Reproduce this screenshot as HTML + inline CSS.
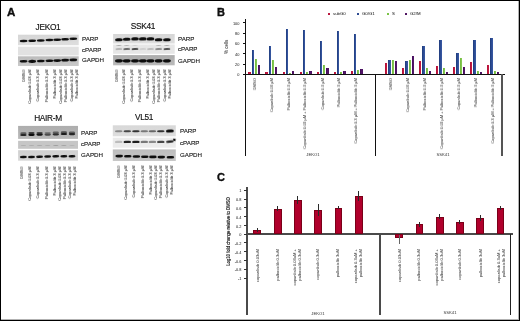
<!DOCTYPE html><html><head><meta charset="utf-8"><style>
*{margin:0;padding:0;box-sizing:border-box}
html,body{width:520px;height:321px;background:#fff;overflow:hidden}
body{position:relative;font-family:"Liberation Sans", sans-serif;color:#111}
#frame{position:absolute;left:0;top:0;width:520px;height:321px;border:1px solid #000;box-shadow:inset -1px -1px 0 rgba(0,0,0,0.3)}
.t{position:absolute;white-space:nowrap;line-height:1;will-change:transform}
.strip{position:absolute}
.band{position:absolute;border-radius:45%/50%}
.rv{position:absolute;transform:rotate(-90deg);transform-origin:0 0;white-space:nowrap;color:#222;will-change:transform}
.L{position:absolute;font-weight:bold;font-size:11px;line-height:11px;will-change:transform;-webkit-text-stroke:0.35px #000}
.ln{position:absolute;background:#111}
.ln2{position:absolute;background:#4a4a4a}
.bar{position:absolute}
.cbar{position:absolute;background:#b0002c;border:0.5px solid #7a0018}
</style></head><body>
<svg style="position:absolute;left:0;top:0" width="230" height="215" viewBox="0 0 230 215"><defs><linearGradient id="g0" x1="0" y1="0" x2="0" y2="1"><stop offset="0" stop-color="#d6d6d6"/><stop offset="1" stop-color="#dedede"/></linearGradient><linearGradient id="g1" x1="0" y1="0" x2="0" y2="1"><stop offset="0" stop-color="#bcbcbc"/><stop offset="1" stop-color="#cacaca"/></linearGradient><linearGradient id="g2" x1="0" y1="0" x2="0" y2="1"><stop offset="0" stop-color="#d6d6d6"/><stop offset="1" stop-color="#dedede"/></linearGradient><linearGradient id="g3" x1="0" y1="0" x2="0" y2="1"><stop offset="0" stop-color="#acacac"/><stop offset="1" stop-color="#bababa"/></linearGradient><linearGradient id="g4" x1="0" y1="0" x2="0" y2="1"><stop offset="0" stop-color="#adadad"/><stop offset="1" stop-color="#b9b9b9"/></linearGradient><linearGradient id="g5" x1="0" y1="0" x2="0" y2="1"><stop offset="0" stop-color="#d0d0d0"/><stop offset="1" stop-color="#d8d8d8"/></linearGradient><linearGradient id="g6" x1="0" y1="0" x2="0" y2="1"><stop offset="0" stop-color="#d8d8d8"/><stop offset="1" stop-color="#dedede"/></linearGradient><linearGradient id="g7" x1="0" y1="0" x2="0" y2="1"><stop offset="0" stop-color="#bdbdbd"/><stop offset="1" stop-color="#c8c8c8"/></linearGradient><filter id="f0" x="-50%" y="-150%" width="200%" height="400%"><feGaussianBlur stdDeviation="0.3"/></filter><filter id="f1" x="-50%" y="-150%" width="200%" height="400%"><feGaussianBlur stdDeviation="0.35"/></filter><filter id="f2" x="-50%" y="-150%" width="200%" height="400%"><feGaussianBlur stdDeviation="0.4"/></filter><filter id="f3" x="-50%" y="-150%" width="200%" height="400%"><feGaussianBlur stdDeviation="0.45"/></filter><filter id="f4" x="-50%" y="-150%" width="200%" height="400%"><feGaussianBlur stdDeviation="0.5"/></filter></defs><rect x="18" y="34.7" width="60.70" height="10.50" fill="url(#g0)"/><rect x="18" y="46.7" width="60.70" height="8.70" fill="#e2e2e2"/><rect x="18" y="56.3" width="60.70" height="9.70" fill="url(#g1)"/><rect x="19.70" y="39.80" width="7.8" height="2.4" rx="3.51" ry="1.20" fill="#111" filter="url(#f0)" transform="rotate(-1.5 23.60 41.00)"/><rect x="19.70" y="60.00" width="7.8" height="2.6" rx="3.51" ry="1.30" fill="#0a0a0a" filter="url(#f0)" transform="rotate(-1.5 23.60 61.30)"/><rect x="28.30" y="39.60" width="7.8" height="2.4" rx="3.51" ry="1.20" fill="#111" filter="url(#f0)" transform="rotate(-1.5 32.20 40.80)"/><rect x="28.30" y="59.65" width="7.8" height="3.3" rx="3.51" ry="1.65" fill="#0a0a0a" filter="url(#f0)" transform="rotate(-1.5 32.20 61.30)"/><rect x="36.90" y="39.30" width="7.8" height="2.4" rx="3.51" ry="1.20" fill="#111" filter="url(#f0)" transform="rotate(-1.5 40.80 40.50)"/><rect x="36.90" y="59.70" width="7.8" height="2.6" rx="3.51" ry="1.30" fill="#0a0a0a" filter="url(#f0)" transform="rotate(-1.5 40.80 61.00)"/><rect x="45.50" y="38.80" width="7.8" height="2.4" rx="3.51" ry="1.20" fill="#111" filter="url(#f0)" transform="rotate(-1.5 49.40 40.00)"/><rect x="45.50" y="59.60" width="7.8" height="2.4" rx="3.51" ry="1.20" fill="#0a0a0a" filter="url(#f0)" transform="rotate(-1.5 49.40 60.80)"/><rect x="53.30" y="38.50" width="7.8" height="2.4" rx="3.51" ry="1.20" fill="#111" filter="url(#f0)" transform="rotate(-1.5 57.20 39.70)"/><rect x="53.30" y="59.30" width="7.8" height="2.6" rx="3.51" ry="1.30" fill="#0a0a0a" filter="url(#f0)" transform="rotate(-1.5 57.20 60.60)"/><rect x="61.20" y="38.10" width="7.8" height="2.4" rx="3.51" ry="1.20" fill="#111" filter="url(#f0)" transform="rotate(-1.5 65.10 39.30)"/><rect x="61.20" y="58.85" width="7.8" height="2.7" rx="3.51" ry="1.35" fill="#0a0a0a" filter="url(#f0)" transform="rotate(-1.5 65.10 60.20)"/><rect x="69.40" y="37.50" width="7.8" height="2.4" rx="3.51" ry="1.20" fill="#111" filter="url(#f0)" transform="rotate(-1.5 73.30 38.70)"/><rect x="69.40" y="58.50" width="7.8" height="2.8" rx="3.51" ry="1.40" fill="#0a0a0a" filter="url(#f0)" transform="rotate(-1.5 73.30 59.90)"/><rect x="113.1" y="34" width="61.60" height="9.50" fill="url(#g2)"/><rect x="113.1" y="44.5" width="61.60" height="9.30" fill="#e6e6e6"/><rect x="113.1" y="55.1" width="61.60" height="10.20" fill="url(#g3)"/><rect x="115.00" y="38.25" width="7.8" height="3.1" rx="2.50" ry="1.55" fill="#111" filter="url(#f1)" transform="rotate(-2 118.90 39.80)"/><rect x="114.90" y="59.15" width="8.0" height="3.3" rx="2.56" ry="1.65" fill="#0a0a0a" filter="url(#f1)" transform="rotate(-1 118.90 60.80)"/><rect x="115.40" y="48.15" width="7.0" height="1.7" rx="2.45" ry="0.85" fill="rgb(165,165,165)" filter="url(#f2)" transform="rotate(-3 118.90 49.00)"/><rect x="115.90" y="44.95" width="6.0" height="0.9" rx="2.70" ry="0.45" fill="rgb(150,150,150)" filter="url(#f2)" transform="rotate(-2 118.90 45.40)"/><rect x="122.80" y="37.75" width="7.8" height="3.1" rx="2.50" ry="1.55" fill="#111" filter="url(#f1)" transform="rotate(-2 126.70 39.30)"/><rect x="122.70" y="59.15" width="8.0" height="3.3" rx="2.56" ry="1.65" fill="#0a0a0a" filter="url(#f1)" transform="rotate(-1 126.70 60.80)"/><rect x="123.20" y="48.15" width="7.0" height="1.7" rx="2.45" ry="0.85" fill="rgb(68,68,68)" filter="url(#f2)" transform="rotate(-3 126.70 49.00)"/><rect x="123.70" y="44.95" width="6.0" height="0.9" rx="2.70" ry="0.45" fill="rgb(165,165,165)" filter="url(#f2)" transform="rotate(-2 126.70 45.40)"/><rect x="131.10" y="37.35" width="7.8" height="3.1" rx="2.50" ry="1.55" fill="#111" filter="url(#f1)" transform="rotate(-2 135.00 38.90)"/><rect x="131.00" y="59.15" width="8.0" height="3.3" rx="2.56" ry="1.65" fill="#0a0a0a" filter="url(#f1)" transform="rotate(-1 135.00 60.80)"/><rect x="131.50" y="48.15" width="7.0" height="1.7" rx="2.45" ry="0.85" fill="rgb(26,26,26)" filter="url(#f2)" transform="rotate(-3 135.00 49.00)"/><rect x="132.00" y="44.95" width="6.0" height="0.9" rx="2.70" ry="0.45" fill="rgb(200,200,200)" filter="url(#f2)" transform="rotate(-2 135.00 45.40)"/><rect x="138.90" y="37.35" width="7.8" height="3.1" rx="2.50" ry="1.55" fill="#111" filter="url(#f1)" transform="rotate(-2 142.80 38.90)"/><rect x="138.80" y="59.15" width="8.0" height="3.3" rx="2.56" ry="1.65" fill="#0a0a0a" filter="url(#f1)" transform="rotate(-1 142.80 60.80)"/><rect x="139.30" y="48.15" width="7.0" height="1.7" rx="2.45" ry="0.85" fill="rgb(200,200,200)" filter="url(#f2)" transform="rotate(-3 142.80 49.00)"/><rect x="139.80" y="44.95" width="6.0" height="0.9" rx="2.70" ry="0.45" fill="rgb(230,230,230)" filter="url(#f2)" transform="rotate(-2 142.80 45.40)"/><rect x="146.60" y="37.35" width="7.8" height="3.1" rx="2.50" ry="1.55" fill="#111" filter="url(#f1)" transform="rotate(-2 150.50 38.90)"/><rect x="146.50" y="59.15" width="8.0" height="3.3" rx="2.56" ry="1.65" fill="#0a0a0a" filter="url(#f1)" transform="rotate(-1 150.50 60.80)"/><rect x="147.00" y="48.15" width="7.0" height="1.7" rx="2.45" ry="0.85" fill="rgb(175,175,175)" filter="url(#f2)" transform="rotate(-3 150.50 49.00)"/><rect x="147.50" y="44.95" width="6.0" height="0.9" rx="2.70" ry="0.45" fill="rgb(230,230,230)" filter="url(#f2)" transform="rotate(-2 150.50 45.40)"/><rect x="154.70" y="38.15" width="7.8" height="3.1" rx="2.50" ry="1.55" fill="#111" filter="url(#f1)" transform="rotate(-2 158.60 39.70)"/><rect x="154.60" y="59.15" width="8.0" height="3.3" rx="2.56" ry="1.65" fill="#0a0a0a" filter="url(#f1)" transform="rotate(-1 158.60 60.80)"/><rect x="155.10" y="48.15" width="7.0" height="1.7" rx="2.45" ry="0.85" fill="rgb(110,110,110)" filter="url(#f2)" transform="rotate(-3 158.60 49.00)"/><rect x="155.60" y="44.95" width="6.0" height="0.9" rx="2.70" ry="0.45" fill="rgb(160,160,160)" filter="url(#f2)" transform="rotate(-2 158.60 45.40)"/><rect x="163.00" y="38.15" width="7.8" height="3.1" rx="2.50" ry="1.55" fill="#111" filter="url(#f1)" transform="rotate(-2 166.90 39.70)"/><rect x="162.90" y="59.15" width="8.0" height="3.3" rx="2.56" ry="1.65" fill="#0a0a0a" filter="url(#f1)" transform="rotate(-1 166.90 60.80)"/><rect x="163.40" y="48.15" width="7.0" height="1.7" rx="2.45" ry="0.85" fill="rgb(34,34,34)" filter="url(#f2)" transform="rotate(-3 166.90 49.00)"/><rect x="163.90" y="44.95" width="6.0" height="0.9" rx="2.70" ry="0.45" fill="rgb(150,150,150)" filter="url(#f2)" transform="rotate(-2 166.90 45.40)"/><rect x="18.1" y="125.9" width="59.90" height="13.00" fill="url(#g4)"/><rect x="18.1" y="140.8" width="59.90" height="8.00" fill="#c6c6c6"/><rect x="18.1" y="150.2" width="59.90" height="10.50" fill="url(#g5)"/><rect x="20.30" y="132.30" width="6.2" height="2.0" rx="1.55" ry="1.00" fill="rgb(90,90,90)" filter="url(#f3)" transform="rotate(0 23.40 133.30)"/><rect x="20.20" y="133.90" width="6.4" height="2.2" rx="1.60" ry="1.10" fill="rgb(40,40,40)" filter="url(#f3)" transform="rotate(0 23.40 135.00)"/><rect x="19.90" y="155.80" width="7.0" height="2.4" rx="3.15" ry="1.20" fill="#0a0a0a" filter="url(#f1)" transform="rotate(-2 23.40 157.00)"/><rect x="20.65" y="144.90" width="5.5" height="1.0" rx="2.48" ry="0.50" fill="rgb(175,175,175)" filter="url(#f4)" transform="rotate(0 23.40 145.40)"/><rect x="28.40" y="132.10" width="6.2" height="2.0" rx="1.55" ry="1.00" fill="rgb(65,65,65)" filter="url(#f3)" transform="rotate(0 31.50 133.10)"/><rect x="28.30" y="133.70" width="6.4" height="2.2" rx="1.60" ry="1.10" fill="rgb(15,15,15)" filter="url(#f3)" transform="rotate(0 31.50 134.80)"/><rect x="28.00" y="155.80" width="7.0" height="2.4" rx="3.15" ry="1.20" fill="#0a0a0a" filter="url(#f1)" transform="rotate(-2 31.50 157.00)"/><rect x="28.75" y="144.90" width="5.5" height="1.0" rx="2.48" ry="0.50" fill="rgb(175,175,175)" filter="url(#f4)" transform="rotate(0 31.50 145.40)"/><rect x="36.50" y="131.90" width="6.2" height="2.0" rx="1.55" ry="1.00" fill="rgb(72,72,72)" filter="url(#f3)" transform="rotate(0 39.60 132.90)"/><rect x="36.40" y="133.50" width="6.4" height="2.2" rx="1.60" ry="1.10" fill="rgb(22,22,22)" filter="url(#f3)" transform="rotate(0 39.60 134.60)"/><rect x="36.10" y="155.60" width="7.0" height="2.4" rx="3.15" ry="1.20" fill="#0a0a0a" filter="url(#f1)" transform="rotate(-2 39.60 156.80)"/><rect x="36.85" y="144.90" width="5.5" height="1.0" rx="2.48" ry="0.50" fill="rgb(170,170,170)" filter="url(#f4)" transform="rotate(0 39.60 145.40)"/><rect x="44.60" y="131.90" width="6.2" height="2.0" rx="1.55" ry="1.00" fill="rgb(125,125,125)" filter="url(#f3)" transform="rotate(0 47.70 132.90)"/><rect x="44.50" y="133.50" width="6.4" height="2.2" rx="1.60" ry="1.10" fill="rgb(75,75,75)" filter="url(#f3)" transform="rotate(0 47.70 134.60)"/><rect x="44.20" y="155.30" width="7.0" height="2.4" rx="3.15" ry="1.20" fill="#0a0a0a" filter="url(#f1)" transform="rotate(-2 47.70 156.50)"/><rect x="44.95" y="144.90" width="5.5" height="1.0" rx="2.48" ry="0.50" fill="rgb(175,175,175)" filter="url(#f4)" transform="rotate(0 47.70 145.40)"/><rect x="52.70" y="131.60" width="6.2" height="2.0" rx="1.55" ry="1.00" fill="rgb(95,95,95)" filter="url(#f3)" transform="rotate(0 55.80 132.60)"/><rect x="52.60" y="133.20" width="6.4" height="2.2" rx="1.60" ry="1.10" fill="rgb(45,45,45)" filter="url(#f3)" transform="rotate(0 55.80 134.30)"/><rect x="52.30" y="155.10" width="7.0" height="2.4" rx="3.15" ry="1.20" fill="#0a0a0a" filter="url(#f1)" transform="rotate(-2 55.80 156.30)"/><rect x="53.05" y="144.90" width="5.5" height="1.0" rx="2.48" ry="0.50" fill="rgb(160,160,160)" filter="url(#f4)" transform="rotate(0 55.80 145.40)"/><rect x="60.80" y="131.30" width="6.2" height="2.0" rx="1.55" ry="1.00" fill="rgb(80,80,80)" filter="url(#f3)" transform="rotate(0 63.90 132.30)"/><rect x="60.70" y="132.90" width="6.4" height="2.2" rx="1.60" ry="1.10" fill="rgb(30,30,30)" filter="url(#f3)" transform="rotate(0 63.90 134.00)"/><rect x="60.40" y="155.00" width="7.0" height="2.4" rx="3.15" ry="1.20" fill="#0a0a0a" filter="url(#f1)" transform="rotate(-2 63.90 156.20)"/><rect x="61.15" y="144.90" width="5.5" height="1.0" rx="2.48" ry="0.50" fill="rgb(165,165,165)" filter="url(#f4)" transform="rotate(0 63.90 145.40)"/><rect x="68.90" y="131.40" width="6.2" height="2.0" rx="1.55" ry="1.00" fill="rgb(90,90,90)" filter="url(#f3)" transform="rotate(0 72.00 132.40)"/><rect x="68.80" y="133.00" width="6.4" height="2.2" rx="1.60" ry="1.10" fill="rgb(40,40,40)" filter="url(#f3)" transform="rotate(0 72.00 134.10)"/><rect x="68.50" y="155.00" width="7.0" height="2.4" rx="3.15" ry="1.20" fill="#0a0a0a" filter="url(#f1)" transform="rotate(-2 72.00 156.20)"/><rect x="69.25" y="144.90" width="5.5" height="1.0" rx="2.48" ry="0.50" fill="rgb(180,180,180)" filter="url(#f4)" transform="rotate(0 72.00 145.40)"/><rect x="112.8" y="125.3" width="63.00" height="11.00" fill="url(#g6)"/><rect x="112.8" y="137.7" width="63.00" height="10.00" fill="#ebebeb"/><rect x="112.8" y="149.4" width="63.00" height="11.60" fill="url(#g7)"/><rect x="114.90" y="130.20" width="7.6" height="2.0" rx="2.28" ry="1.00" fill="rgb(136,136,136)" filter="url(#f1)" transform="rotate(-1 118.70 131.20)"/><rect x="114.90" y="140.70" width="7.6" height="2.4" rx="2.28" ry="1.20" fill="rgb(187,187,187)" filter="url(#f1)" transform="rotate(-1 118.70 141.90)"/><rect x="115.40" y="154.80" width="7.6" height="2.6" rx="2.28" ry="1.30" fill="#111" filter="url(#f1)" transform="rotate(-1 119.20 156.10)"/><rect x="123.50" y="130.20" width="7.6" height="2.0" rx="2.28" ry="1.00" fill="rgb(68,68,68)" filter="url(#f1)" transform="rotate(-1 127.30 131.20)"/><rect x="123.50" y="140.70" width="7.6" height="2.4" rx="2.28" ry="1.20" fill="rgb(34,34,34)" filter="url(#f1)" transform="rotate(-1 127.30 141.90)"/><rect x="124.00" y="155.00" width="7.6" height="2.6" rx="2.28" ry="1.30" fill="#111" filter="url(#f1)" transform="rotate(-1 127.80 156.30)"/><rect x="132.10" y="130.20" width="7.6" height="2.0" rx="2.28" ry="1.00" fill="rgb(51,51,51)" filter="url(#f1)" transform="rotate(-1 135.90 131.20)"/><rect x="132.10" y="140.70" width="7.6" height="2.4" rx="2.28" ry="1.20" fill="rgb(26,26,26)" filter="url(#f1)" transform="rotate(-1 135.90 141.90)"/><rect x="132.60" y="155.20" width="7.6" height="2.6" rx="2.28" ry="1.30" fill="#111" filter="url(#f1)" transform="rotate(-1 136.40 156.50)"/><rect x="140.50" y="130.20" width="7.6" height="2.0" rx="2.28" ry="1.00" fill="rgb(119,119,119)" filter="url(#f1)" transform="rotate(-1 144.30 131.20)"/><rect x="140.50" y="140.70" width="7.6" height="2.4" rx="2.28" ry="1.20" fill="rgb(119,119,119)" filter="url(#f1)" transform="rotate(-1 144.30 141.90)"/><rect x="141.00" y="155.40" width="7.6" height="2.6" rx="2.28" ry="1.30" fill="#111" filter="url(#f1)" transform="rotate(-1 144.80 156.70)"/><rect x="148.60" y="130.20" width="7.6" height="2.0" rx="2.28" ry="1.00" fill="rgb(102,102,102)" filter="url(#f1)" transform="rotate(-1 152.40 131.20)"/><rect x="148.60" y="140.70" width="7.6" height="2.4" rx="2.28" ry="1.20" fill="rgb(136,136,136)" filter="url(#f1)" transform="rotate(-1 152.40 141.90)"/><rect x="149.10" y="155.60" width="7.6" height="2.6" rx="2.28" ry="1.30" fill="#111" filter="url(#f1)" transform="rotate(-1 152.90 156.90)"/><rect x="157.00" y="130.20" width="7.6" height="2.0" rx="2.28" ry="1.00" fill="rgb(51,51,51)" filter="url(#f1)" transform="rotate(-1 160.80 131.20)"/><rect x="157.00" y="140.70" width="7.6" height="2.4" rx="2.28" ry="1.20" fill="rgb(68,68,68)" filter="url(#f1)" transform="rotate(-1 160.80 141.90)"/><rect x="157.50" y="155.80" width="7.6" height="2.6" rx="2.28" ry="1.30" fill="#111" filter="url(#f1)" transform="rotate(-1 161.30 157.10)"/><rect x="165.90" y="129.40" width="8.0" height="3.0" rx="2.40" ry="1.50" fill="rgb(17,17,17)" filter="url(#f1)" transform="rotate(-3 169.90 130.90)"/><rect x="166.00" y="140.40" width="7.8" height="2.4" rx="2.34" ry="1.20" fill="rgb(34,34,34)" filter="url(#f1)" transform="rotate(-6 169.90 141.60)"/><rect x="166.60" y="156.00" width="7.6" height="2.6" rx="2.28" ry="1.30" fill="#111" filter="url(#f1)" transform="rotate(-1 170.40 157.30)"/><rect x="173.10" y="138.70" width="2.6" height="2.2" rx="0.52" ry="1.10" fill="#111" filter="url(#f1)" transform="rotate(20 174.40 139.80)"/></svg>
<div class="t" style="left:17.5px;top:23.0px;width:60px;text-align:center;font-size:8.3px;letter-spacing:-0.3px;color:#111;-webkit-text-stroke:0.15px #111">JEKO1</div>
<div class="t" style="left:81.5px;top:35.05px;font-size:6.2px;line-height:7px;color:#111;-webkit-text-stroke:0.1px #111">PARP</div>
<div class="t" style="left:81.5px;top:46.30px;font-size:6.2px;line-height:7px;color:#111;-webkit-text-stroke:0.1px #111">cPARP</div>
<div class="t" style="left:81.5px;top:56.30px;font-size:6.2px;line-height:7px;color:#111;-webkit-text-stroke:0.1px #111">GAPDH</div>
<div class="rv" style="left:21.65px;top:143.80px;width:80px;font-size:4.3px;line-height:4.5px;text-align:right;color:#000;transform:rotate(-90deg) scaleX(0.93)">DMSO</div>
<div class="rv" style="left:28.35px;top:143.80px;width:80px;font-size:4.3px;line-height:4.5px;text-align:right;color:#000;transform:rotate(-90deg) scaleX(0.93)">Copanlisib 0.03 µM</div>
<div class="rv" style="left:36.45px;top:143.80px;width:80px;font-size:4.3px;line-height:4.5px;text-align:right;color:#000;transform:rotate(-90deg) scaleX(0.93)">Copanlisib 0.3 µM</div>
<div class="rv" style="left:45.15px;top:143.80px;width:80px;font-size:4.3px;line-height:4.5px;text-align:right;color:#000;transform:rotate(-90deg) scaleX(0.93)">Palbociclib 0.3 µM</div>
<div class="rv" style="left:53.25px;top:143.80px;width:80px;font-size:4.3px;line-height:4.5px;text-align:right;color:#000;transform:rotate(-90deg) scaleX(0.93)">Palbociclib 3 µM</div>
<div class="rv" style="left:59.30px;top:143.80px;width:80px;font-size:4.3px;line-height:4.5px;text-align:right;color:#000;transform:rotate(-90deg) scaleX(0.93)">Copanlisib 0.03 µM<br>Palbociclib 0.3 µM</div>
<div class="rv" style="left:69.60px;top:143.80px;width:80px;font-size:4.3px;line-height:4.5px;text-align:right;color:#000;transform:rotate(-90deg) scaleX(0.93)">Copanlisib 0.3 µM<br>Palbociclib 3 µM</div>
<div class="t" style="left:113.19999999999999px;top:21.8px;width:60px;text-align:center;font-size:8.3px;letter-spacing:-0.3px;color:#111;-webkit-text-stroke:0.15px #111">SSK41</div>
<div class="t" style="left:177.6px;top:35.05px;font-size:6.2px;line-height:7px;color:#111;-webkit-text-stroke:0.1px #111">PARP</div>
<div class="t" style="left:177.6px;top:44.50px;font-size:6.2px;line-height:7px;color:#111;-webkit-text-stroke:0.1px #111">cPARP</div>
<div class="t" style="left:177.6px;top:57.30px;font-size:6.2px;line-height:7px;color:#111;-webkit-text-stroke:0.1px #111">GAPDH</div>
<div class="rv" style="left:114.65px;top:143.80px;width:80px;font-size:4.3px;line-height:4.5px;text-align:right;color:#000;transform:rotate(-90deg) scaleX(0.93)">DMSO</div>
<div class="rv" style="left:121.65px;top:143.80px;width:80px;font-size:4.3px;line-height:4.5px;text-align:right;color:#000;transform:rotate(-90deg) scaleX(0.93)">Copanlisib 0.03 µM</div>
<div class="rv" style="left:129.65px;top:143.80px;width:80px;font-size:4.3px;line-height:4.5px;text-align:right;color:#000;transform:rotate(-90deg) scaleX(0.93)">Copanlisib 0.3 µM</div>
<div class="rv" style="left:137.75px;top:143.80px;width:80px;font-size:4.3px;line-height:4.5px;text-align:right;color:#000;transform:rotate(-90deg) scaleX(0.93)">Palbociclib 0.3 µM</div>
<div class="rv" style="left:145.55px;top:143.80px;width:80px;font-size:4.3px;line-height:4.5px;text-align:right;color:#000;transform:rotate(-90deg) scaleX(0.93)">Palbociclib 3 µM</div>
<div class="rv" style="left:152.10px;top:143.80px;width:80px;font-size:4.3px;line-height:4.5px;text-align:right;color:#000;transform:rotate(-90deg) scaleX(0.93)">Copanlisib 0.03 µM<br>Palbociclib 0.3 µM</div>
<div class="rv" style="left:162.60px;top:143.80px;width:80px;font-size:4.3px;line-height:4.5px;text-align:right;color:#000;transform:rotate(-90deg) scaleX(0.93)">Copanlisib 0.3 µM<br>Palbociclib 3 µM</div>
<div class="t" style="left:18px;top:114.2px;width:60px;text-align:center;font-size:8.3px;letter-spacing:-0.3px;color:#111;-webkit-text-stroke:0.15px #111">HAIR-M</div>
<div class="t" style="left:80.9px;top:129.20px;font-size:6.2px;line-height:7px;color:#111;-webkit-text-stroke:0.1px #111">PARP</div>
<div class="t" style="left:80.9px;top:140.40px;font-size:6.2px;line-height:7px;color:#111;-webkit-text-stroke:0.1px #111">cPARP</div>
<div class="t" style="left:80.9px;top:151.30px;font-size:6.2px;line-height:7px;color:#111;-webkit-text-stroke:0.1px #111">GAPDH</div>
<div class="rv" style="left:20.25px;top:240.50px;width:80px;font-size:4.3px;line-height:4.5px;text-align:right;color:#000;transform:rotate(-90deg) scaleX(0.93)">DMSO</div>
<div class="rv" style="left:28.05px;top:240.50px;width:80px;font-size:4.3px;line-height:4.5px;text-align:right;color:#000;transform:rotate(-90deg) scaleX(0.93)">Copanlisib 0.03 µM</div>
<div class="rv" style="left:36.45px;top:240.50px;width:80px;font-size:4.3px;line-height:4.5px;text-align:right;color:#000;transform:rotate(-90deg) scaleX(0.93)">Copanlisib 0.3 µM</div>
<div class="rv" style="left:44.55px;top:240.50px;width:80px;font-size:4.3px;line-height:4.5px;text-align:right;color:#000;transform:rotate(-90deg) scaleX(0.93)">Palbociclib 0.3 µM</div>
<div class="rv" style="left:52.55px;top:240.50px;width:80px;font-size:4.3px;line-height:4.5px;text-align:right;color:#000;transform:rotate(-90deg) scaleX(0.93)">Palbociclib 3 µM</div>
<div class="rv" style="left:57.90px;top:240.50px;width:80px;font-size:4.3px;line-height:4.5px;text-align:right;color:#000;transform:rotate(-90deg) scaleX(0.93)">Copanlisib 0.03 µM<br>Palbociclib 0.3 µM</div>
<div class="rv" style="left:68.00px;top:240.50px;width:80px;font-size:4.3px;line-height:4.5px;text-align:right;color:#000;transform:rotate(-90deg) scaleX(0.93)">Copanlisib 0.3 µM<br>Palbociclib 3 µM</div>
<div class="t" style="left:113.9px;top:113.1px;width:60px;text-align:center;font-size:8.3px;letter-spacing:-0.3px;color:#111;-webkit-text-stroke:0.15px #111">VL51</div>
<div class="t" style="left:180.1px;top:127.30px;font-size:6.2px;line-height:7px;color:#111;-webkit-text-stroke:0.1px #111">PARP</div>
<div class="t" style="left:180.1px;top:138.70px;font-size:6.2px;line-height:7px;color:#111;-webkit-text-stroke:0.1px #111">cPARP</div>
<div class="t" style="left:180.1px;top:151.10px;font-size:6.2px;line-height:7px;color:#111;-webkit-text-stroke:0.1px #111">GAPDH</div>
<div class="rv" style="left:116.65px;top:239.50px;width:80px;font-size:4.3px;line-height:4.5px;text-align:right;color:#000;transform:rotate(-90deg) scaleX(0.93)">DMSO</div>
<div class="rv" style="left:124.45px;top:239.50px;width:80px;font-size:4.3px;line-height:4.5px;text-align:right;color:#000;transform:rotate(-90deg) scaleX(0.93)">Copanlisib 0.03 µM</div>
<div class="rv" style="left:132.25px;top:239.50px;width:80px;font-size:4.3px;line-height:4.5px;text-align:right;color:#000;transform:rotate(-90deg) scaleX(0.93)">Copanlisib 0.3 µM</div>
<div class="rv" style="left:140.55px;top:239.50px;width:80px;font-size:4.3px;line-height:4.5px;text-align:right;color:#000;transform:rotate(-90deg) scaleX(0.93)">Palbociclib 0.3 µM</div>
<div class="rv" style="left:148.55px;top:239.50px;width:80px;font-size:4.3px;line-height:4.5px;text-align:right;color:#000;transform:rotate(-90deg) scaleX(0.93)">Palbociclib 3 µM</div>
<div class="rv" style="left:154.40px;top:239.50px;width:80px;font-size:4.3px;line-height:4.5px;text-align:right;color:#000;transform:rotate(-90deg) scaleX(0.93)">Copanlisib 0.03 µM<br>Palbociclib 0.3 µM</div>
<div class="rv" style="left:164.50px;top:239.50px;width:80px;font-size:4.3px;line-height:4.5px;text-align:right;color:#000;transform:rotate(-90deg) scaleX(0.93)">Copanlisib 0.3 µM<br>Palbociclib 3 µM</div>
<div class="L" style="left:6.8px;top:6.8px;font-size:11.5px">A</div>
<div class="L" style="left:217.2px;top:7.2px">B</div>
<div class="L" style="left:216.8px;top:171.9px">C</div>
<div class="ln" style="left:244.6px;top:19.4px;width:1.2px;height:136.4px"></div>
<div class="ln" style="left:245.2px;top:73.8px;width:259.40000000000003px;height:1.1px"></div>
<div class="ln" style="left:242.6px;top:73.85px;width:2.6px;height:0.9px"></div>
<div class="t" style="left:215.2px;top:72.3px;width:24.4px;text-align:right;font-size:3.9px;line-height:4px;color:#111;transform:translateY(0.8px)">0</div>
<div class="ln" style="left:242.6px;top:63.55px;width:2.6px;height:0.9px"></div>
<div class="t" style="left:215.2px;top:62.0px;width:24.4px;text-align:right;font-size:3.9px;line-height:4px;color:#111;transform:translateY(0.8px)">20</div>
<div class="ln" style="left:242.6px;top:53.24999999999999px;width:2.6px;height:0.9px"></div>
<div class="t" style="left:215.2px;top:51.699999999999996px;width:24.4px;text-align:right;font-size:3.9px;line-height:4px;color:#111;transform:translateY(0.8px)">40</div>
<div class="ln" style="left:242.6px;top:42.94999999999999px;width:2.6px;height:0.9px"></div>
<div class="t" style="left:215.2px;top:41.39999999999999px;width:24.4px;text-align:right;font-size:3.9px;line-height:4px;color:#111;transform:translateY(0.8px)">60</div>
<div class="ln" style="left:242.6px;top:32.64999999999999px;width:2.6px;height:0.9px"></div>
<div class="t" style="left:215.2px;top:31.099999999999994px;width:24.4px;text-align:right;font-size:3.9px;line-height:4px;color:#111;transform:translateY(0.8px)">80</div>
<div class="ln" style="left:242.6px;top:22.349999999999998px;width:2.6px;height:0.9px"></div>
<div class="t" style="left:215.2px;top:20.799999999999997px;width:24.4px;text-align:right;font-size:3.9px;line-height:4px;color:#111;transform:translateY(0.8px)">100</div>
<div class="ln" style="left:375.0px;top:74.3px;width:1.2px;height:81.50000000000001px;background:#111"></div>
<div class="ln" style="left:501.15px;top:74.3px;width:1.5px;height:81.50000000000001px;background:#555"></div>
<div class="rv" style="left:223.80px;top:53.60px;width:14px;font-size:4.5px;line-height:5px;text-align:center;color:#111">% cells</div>
<div style="position:absolute;left:327.8px;top:12.8px;width:2px;height:2px;background:#b8123a;border-radius:0.3px"></div>
<div class="t" style="left:332.7px;top:12.0px;font-size:4.3px;line-height:4.4px;color:#000">subG0</div>
<div style="position:absolute;left:357.1px;top:12.8px;width:2px;height:2px;background:#2a4890;border-radius:0.3px"></div>
<div class="t" style="left:362.0px;top:12.0px;font-size:4.3px;line-height:4.4px;color:#000">G0/G1</div>
<div style="position:absolute;left:387.4px;top:12.8px;width:2px;height:2px;background:#78c242;border-radius:0.3px"></div>
<div class="t" style="left:392.3px;top:12.0px;font-size:4.3px;line-height:4.4px;color:#000">S</div>
<div style="position:absolute;left:404.9px;top:12.8px;width:2px;height:2px;background:#4b0f5f;border-radius:0.3px"></div>
<div class="t" style="left:409.8px;top:12.0px;font-size:4.3px;line-height:4.4px;color:#000">G2/M</div>
<div class="bar" style="left:248.40px;top:71.98px;width:2.3px;height:2.32px;background:linear-gradient(90deg,#a80c32,#c81c44 60%,#b81238)"></div>
<div class="bar" style="left:251.62px;top:49.58px;width:2.3px;height:24.72px;background:linear-gradient(90deg,#1e3a7a,#2f4f98 60%,#3a5aa4)"></div>
<div class="bar" style="left:254.84px;top:58.85px;width:2.3px;height:15.45px;background:linear-gradient(90deg,#68b436,#8ccc58 60%,#78c044)"></div>
<div class="bar" style="left:258.06px;top:65.29px;width:2.3px;height:9.01px;background:linear-gradient(90deg,#3e0a54,#55186c 60%,#4a1060)"></div>
<div class="bar" style="left:265.46px;top:71.72px;width:2.3px;height:2.58px;background:linear-gradient(90deg,#a80c32,#c81c44 60%,#b81238)"></div>
<div class="bar" style="left:268.68px;top:46.49px;width:2.3px;height:27.81px;background:linear-gradient(90deg,#1e3a7a,#2f4f98 60%,#3a5aa4)"></div>
<div class="bar" style="left:271.90px;top:60.39px;width:2.3px;height:13.91px;background:linear-gradient(90deg,#68b436,#8ccc58 60%,#78c044)"></div>
<div class="bar" style="left:275.12px;top:67.09px;width:2.3px;height:7.21px;background:linear-gradient(90deg,#3e0a54,#55186c 60%,#4a1060)"></div>
<div class="bar" style="left:282.52px;top:72.24px;width:2.3px;height:2.06px;background:linear-gradient(90deg,#a80c32,#c81c44 60%,#b81238)"></div>
<div class="bar" style="left:285.74px;top:29.24px;width:2.3px;height:45.06px;background:linear-gradient(90deg,#1e3a7a,#2f4f98 60%,#3a5aa4)"></div>
<div class="bar" style="left:288.96px;top:72.75px;width:2.3px;height:1.54px;background:linear-gradient(90deg,#68b436,#8ccc58 60%,#78c044)"></div>
<div class="bar" style="left:292.18px;top:71.21px;width:2.3px;height:3.09px;background:linear-gradient(90deg,#3e0a54,#55186c 60%,#4a1060)"></div>
<div class="bar" style="left:299.58px;top:72.24px;width:2.3px;height:2.06px;background:linear-gradient(90deg,#a80c32,#c81c44 60%,#b81238)"></div>
<div class="bar" style="left:302.80px;top:30.27px;width:2.3px;height:44.03px;background:linear-gradient(90deg,#1e3a7a,#2f4f98 60%,#3a5aa4)"></div>
<div class="bar" style="left:306.02px;top:72.24px;width:2.3px;height:2.06px;background:linear-gradient(90deg,#68b436,#8ccc58 60%,#78c044)"></div>
<div class="bar" style="left:309.24px;top:70.95px;width:2.3px;height:3.35px;background:linear-gradient(90deg,#3e0a54,#55186c 60%,#4a1060)"></div>
<div class="bar" style="left:316.64px;top:71.98px;width:2.3px;height:2.32px;background:linear-gradient(90deg,#a80c32,#c81c44 60%,#b81238)"></div>
<div class="bar" style="left:319.86px;top:40.82px;width:2.3px;height:33.48px;background:linear-gradient(90deg,#1e3a7a,#2f4f98 60%,#3a5aa4)"></div>
<div class="bar" style="left:323.08px;top:64.52px;width:2.3px;height:9.79px;background:linear-gradient(90deg,#68b436,#8ccc58 60%,#78c044)"></div>
<div class="bar" style="left:326.30px;top:68.12px;width:2.3px;height:6.18px;background:linear-gradient(90deg,#3e0a54,#55186c 60%,#4a1060)"></div>
<div class="bar" style="left:333.70px;top:72.24px;width:2.3px;height:2.06px;background:linear-gradient(90deg,#a80c32,#c81c44 60%,#b81238)"></div>
<div class="bar" style="left:336.92px;top:30.78px;width:2.3px;height:43.52px;background:linear-gradient(90deg,#1e3a7a,#2f4f98 60%,#3a5aa4)"></div>
<div class="bar" style="left:340.14px;top:71.98px;width:2.3px;height:2.32px;background:linear-gradient(90deg,#68b436,#8ccc58 60%,#78c044)"></div>
<div class="bar" style="left:343.36px;top:70.95px;width:2.3px;height:3.35px;background:linear-gradient(90deg,#3e0a54,#55186c 60%,#4a1060)"></div>
<div class="bar" style="left:350.76px;top:70.95px;width:2.3px;height:3.35px;background:linear-gradient(90deg,#a80c32,#c81c44 60%,#b81238)"></div>
<div class="bar" style="left:353.98px;top:33.98px;width:2.3px;height:40.32px;background:linear-gradient(90deg,#1e3a7a,#2f4f98 60%,#3a5aa4)"></div>
<div class="bar" style="left:357.20px;top:70.18px;width:2.3px;height:4.12px;background:linear-gradient(90deg,#68b436,#8ccc58 60%,#78c044)"></div>
<div class="bar" style="left:360.42px;top:69.41px;width:2.3px;height:4.89px;background:linear-gradient(90deg,#3e0a54,#55186c 60%,#4a1060)"></div>
<div class="bar" style="left:385.10px;top:63.48px;width:2.3px;height:10.81px;background:linear-gradient(90deg,#a80c32,#c81c44 60%,#b81238)"></div>
<div class="bar" style="left:388.32px;top:60.14px;width:2.3px;height:14.16px;background:linear-gradient(90deg,#1e3a7a,#2f4f98 60%,#3a5aa4)"></div>
<div class="bar" style="left:391.54px;top:60.14px;width:2.3px;height:14.16px;background:linear-gradient(90deg,#68b436,#8ccc58 60%,#78c044)"></div>
<div class="bar" style="left:394.76px;top:61.42px;width:2.3px;height:12.88px;background:linear-gradient(90deg,#3e0a54,#55186c 60%,#4a1060)"></div>
<div class="bar" style="left:402.11px;top:68.38px;width:2.3px;height:5.92px;background:linear-gradient(90deg,#a80c32,#c81c44 60%,#b81238)"></div>
<div class="bar" style="left:405.33px;top:60.70px;width:2.3px;height:13.60px;background:linear-gradient(90deg,#1e3a7a,#2f4f98 60%,#3a5aa4)"></div>
<div class="bar" style="left:408.55px;top:59.88px;width:2.3px;height:14.42px;background:linear-gradient(90deg,#68b436,#8ccc58 60%,#78c044)"></div>
<div class="bar" style="left:411.77px;top:56.48px;width:2.3px;height:17.82px;background:linear-gradient(90deg,#3e0a54,#55186c 60%,#4a1060)"></div>
<div class="bar" style="left:419.12px;top:61.12px;width:2.3px;height:13.18px;background:linear-gradient(90deg,#a80c32,#c81c44 60%,#b81238)"></div>
<div class="bar" style="left:422.34px;top:46.28px;width:2.3px;height:28.02px;background:linear-gradient(90deg,#1e3a7a,#2f4f98 60%,#3a5aa4)"></div>
<div class="bar" style="left:425.56px;top:68.02px;width:2.3px;height:6.28px;background:linear-gradient(90deg,#68b436,#8ccc58 60%,#78c044)"></div>
<div class="bar" style="left:428.78px;top:70.90px;width:2.3px;height:3.40px;background:linear-gradient(90deg,#3e0a54,#55186c 60%,#4a1060)"></div>
<div class="bar" style="left:436.13px;top:66.06px;width:2.3px;height:8.24px;background:linear-gradient(90deg,#a80c32,#c81c44 60%,#b81238)"></div>
<div class="bar" style="left:439.35px;top:39.59px;width:2.3px;height:34.71px;background:linear-gradient(90deg,#1e3a7a,#2f4f98 60%,#3a5aa4)"></div>
<div class="bar" style="left:442.57px;top:68.12px;width:2.3px;height:6.18px;background:linear-gradient(90deg,#68b436,#8ccc58 60%,#78c044)"></div>
<div class="bar" style="left:445.79px;top:71.72px;width:2.3px;height:2.58px;background:linear-gradient(90deg,#3e0a54,#55186c 60%,#4a1060)"></div>
<div class="bar" style="left:453.14px;top:67.09px;width:2.3px;height:7.21px;background:linear-gradient(90deg,#a80c32,#c81c44 60%,#b81238)"></div>
<div class="bar" style="left:456.36px;top:52.82px;width:2.3px;height:21.48px;background:linear-gradient(90deg,#1e3a7a,#2f4f98 60%,#3a5aa4)"></div>
<div class="bar" style="left:459.58px;top:57.92px;width:2.3px;height:16.38px;background:linear-gradient(90deg,#68b436,#8ccc58 60%,#78c044)"></div>
<div class="bar" style="left:462.80px;top:67.19px;width:2.3px;height:7.11px;background:linear-gradient(90deg,#3e0a54,#55186c 60%,#4a1060)"></div>
<div class="bar" style="left:470.15px;top:62.30px;width:2.3px;height:12.00px;background:linear-gradient(90deg,#a80c32,#c81c44 60%,#b81238)"></div>
<div class="bar" style="left:473.37px;top:40.21px;width:2.3px;height:34.09px;background:linear-gradient(90deg,#1e3a7a,#2f4f98 60%,#3a5aa4)"></div>
<div class="bar" style="left:476.59px;top:70.90px;width:2.3px;height:3.40px;background:linear-gradient(90deg,#68b436,#8ccc58 60%,#78c044)"></div>
<div class="bar" style="left:479.81px;top:72.09px;width:2.3px;height:2.21px;background:linear-gradient(90deg,#3e0a54,#55186c 60%,#4a1060)"></div>
<div class="bar" style="left:487.16px;top:64.82px;width:2.3px;height:9.48px;background:linear-gradient(90deg,#a80c32,#c81c44 60%,#b81238)"></div>
<div class="bar" style="left:490.38px;top:37.58px;width:2.3px;height:36.72px;background:linear-gradient(90deg,#1e3a7a,#2f4f98 60%,#3a5aa4)"></div>
<div class="bar" style="left:493.60px;top:71.31px;width:2.3px;height:2.99px;background:linear-gradient(90deg,#68b436,#8ccc58 60%,#78c044)"></div>
<div class="bar" style="left:496.82px;top:71.72px;width:2.3px;height:2.58px;background:linear-gradient(90deg,#3e0a54,#55186c 60%,#4a1060)"></div>
<div class="rv" style="left:252.80px;top:153.60px;width:80px;font-size:4.2px;line-height:4.6px;text-align:right;transform:rotate(-90deg) scaleX(0.95)">DMSO</div>
<div class="rv" style="left:270.20px;top:153.60px;width:80px;font-size:4.2px;line-height:4.6px;text-align:right;transform:rotate(-90deg) scaleX(0.95)">Copanlisib 0.03 µM</div>
<div class="rv" style="left:286.80px;top:153.60px;width:80px;font-size:4.2px;line-height:4.6px;text-align:right;transform:rotate(-90deg) scaleX(0.95)">Palbociclib 0.3 µM</div>
<div class="rv" style="left:303.40px;top:153.60px;width:80px;font-size:4.2px;line-height:4.6px;text-align:right;transform:rotate(-90deg) scaleX(0.95)">Copanlisib 0.03 µM + Palbociclib 0.3 µM</div>
<div class="rv" style="left:320.50px;top:153.60px;width:80px;font-size:4.2px;line-height:4.6px;text-align:right;transform:rotate(-90deg) scaleX(0.95)">Copanlisib 0.3 µM</div>
<div class="rv" style="left:337.40px;top:153.60px;width:80px;font-size:4.2px;line-height:4.6px;text-align:right;transform:rotate(-90deg) scaleX(0.95)">Palbociclib 3 µM</div>
<div class="rv" style="left:354.10px;top:153.60px;width:80px;font-size:4.2px;line-height:4.6px;text-align:right;transform:rotate(-90deg) scaleX(0.95)">Copanlisib 0.3 µM + Palbociclib 3 µM</div>
<div class="rv" style="left:389.10px;top:153.60px;width:80px;font-size:4.2px;line-height:4.6px;text-align:right;transform:rotate(-90deg) scaleX(0.95)">DMSO</div>
<div class="rv" style="left:406.30px;top:153.60px;width:80px;font-size:4.2px;line-height:4.6px;text-align:right;transform:rotate(-90deg) scaleX(0.95)">Copanlisib 0.03 µM</div>
<div class="rv" style="left:423.10px;top:153.60px;width:80px;font-size:4.2px;line-height:4.6px;text-align:right;transform:rotate(-90deg) scaleX(0.95)">Palbociclib 0.3 µM</div>
<div class="rv" style="left:440.00px;top:153.60px;width:80px;font-size:4.2px;line-height:4.6px;text-align:right;transform:rotate(-90deg) scaleX(0.95)">Copanlisib 0.03 µM + Palbociclib 0.3 µM</div>
<div class="rv" style="left:457.00px;top:153.60px;width:80px;font-size:4.2px;line-height:4.6px;text-align:right;transform:rotate(-90deg) scaleX(0.95)">Copanlisib 0.3 µM</div>
<div class="rv" style="left:474.00px;top:153.60px;width:80px;font-size:4.2px;line-height:4.6px;text-align:right;transform:rotate(-90deg) scaleX(0.95)">Palbociclib 3 µM</div>
<div class="rv" style="left:491.00px;top:153.60px;width:80px;font-size:4.2px;line-height:4.6px;text-align:right;transform:rotate(-90deg) scaleX(0.95)">Copanlisib 0.3 µM + Palbociclib 3 µM</div>
<div class="t" style="left:293.3px;top:152.1px;width:40px;text-align:center;font-size:4.2px;line-height:4px;color:#333;transform:translateY(0.7px)">JEKO1</div>
<div class="t" style="left:422.7px;top:151.9px;width:40px;text-align:center;font-size:4.2px;line-height:4px;color:#333;transform:translateY(0.7px)">SSK41</div>
<div class="ln" style="left:246.1px;top:187.3px;width:1.9px;height:127.30000000000001px;background:#4a4a4a"></div>
<div class="ln2" style="left:247.6px;top:233.1px;width:265.4px;height:1.9px"></div>
<div class="ln" style="left:243.6px;top:277.55px;width:3.0px;height:0.9px;background:#333"></div>
<div class="t" style="left:217.6px;top:277.20px;width:23.4px;text-align:right;font-size:3.9px;line-height:4px;color:#111">-1</div>
<div class="ln" style="left:243.6px;top:268.77px;width:3.0px;height:0.9px;background:#333"></div>
<div class="t" style="left:217.6px;top:268.42px;width:23.4px;text-align:right;font-size:3.9px;line-height:4px;color:#111">-0.8</div>
<div class="ln" style="left:243.6px;top:259.99px;width:3.0px;height:0.9px;background:#333"></div>
<div class="t" style="left:217.6px;top:259.64px;width:23.4px;text-align:right;font-size:3.9px;line-height:4px;color:#111">-0.6</div>
<div class="ln" style="left:243.6px;top:251.21px;width:3.0px;height:0.9px;background:#333"></div>
<div class="t" style="left:217.6px;top:250.86px;width:23.4px;text-align:right;font-size:3.9px;line-height:4px;color:#111">-0.4</div>
<div class="ln" style="left:243.6px;top:242.43px;width:3.0px;height:0.9px;background:#333"></div>
<div class="t" style="left:217.6px;top:242.08px;width:23.4px;text-align:right;font-size:3.9px;line-height:4px;color:#111">-0.2</div>
<div class="ln" style="left:243.6px;top:233.65px;width:3.0px;height:0.9px;background:#333"></div>
<div class="t" style="left:217.6px;top:233.30px;width:23.4px;text-align:right;font-size:3.9px;line-height:4px;color:#111">0</div>
<div class="ln" style="left:243.6px;top:224.87px;width:3.0px;height:0.9px;background:#333"></div>
<div class="t" style="left:217.6px;top:224.52px;width:23.4px;text-align:right;font-size:3.9px;line-height:4px;color:#111">0.2</div>
<div class="ln" style="left:243.6px;top:216.09px;width:3.0px;height:0.9px;background:#333"></div>
<div class="t" style="left:217.6px;top:215.74px;width:23.4px;text-align:right;font-size:3.9px;line-height:4px;color:#111">0.4</div>
<div class="ln" style="left:243.6px;top:207.31px;width:3.0px;height:0.9px;background:#333"></div>
<div class="t" style="left:217.6px;top:206.96px;width:23.4px;text-align:right;font-size:3.9px;line-height:4px;color:#111">0.6</div>
<div class="ln" style="left:243.6px;top:198.53px;width:3.0px;height:0.9px;background:#333"></div>
<div class="t" style="left:217.6px;top:198.18px;width:23.4px;text-align:right;font-size:3.9px;line-height:4px;color:#111">0.8</div>
<div class="ln" style="left:243.6px;top:189.75px;width:3.0px;height:0.9px;background:#333"></div>
<div class="t" style="left:217.6px;top:189.40px;width:23.4px;text-align:right;font-size:3.9px;line-height:4px;color:#111">1</div>
<div class="ln" style="left:379.15px;top:234.1px;width:1.9px;height:80.50000000000003px;background:#4a4a4a"></div>
<div class="ln" style="left:509.95px;top:234.1px;width:1.3px;height:80.50000000000003px;background:#222"></div>
<div class="rv" style="left:225.00px;top:266.07px;width:97px;font-size:6.0px;line-height:6px;text-align:right;color:#111;transform:rotate(-90deg) scaleX(0.71);-webkit-text-stroke:0.2px #111">Log10 fold change relative to DMSO</div>
<div class="cbar" style="left:253.4px;top:230.02px;width:7.5px;height:4.08px"></div>
<div class="ln" style="left:256.65px;top:228.20px;width:1px;height:4.10px;background:#2a2a2a"></div>
<div class="cbar" style="left:274.0px;top:208.64px;width:7.5px;height:25.46px"></div>
<div class="ln" style="left:277.25px;top:206.20px;width:1px;height:4.80px;background:#2a2a2a"></div>
<div class="cbar" style="left:294.2px;top:199.86px;width:7.5px;height:34.24px"></div>
<div class="ln" style="left:297.45px;top:195.70px;width:1px;height:8.60px;background:#2a2a2a"></div>
<div class="cbar" style="left:314.3px;top:209.95px;width:7.5px;height:24.14px"></div>
<div class="ln" style="left:317.55px;top:203.80px;width:1px;height:12.00px;background:#2a2a2a"></div>
<div class="cbar" style="left:334.6px;top:207.76px;width:7.5px;height:26.34px"></div>
<div class="ln" style="left:337.85px;top:206.20px;width:1px;height:3.30px;background:#2a2a2a"></div>
<div class="cbar" style="left:355.0px;top:195.91px;width:7.5px;height:38.19px"></div>
<div class="ln" style="left:358.25px;top:190.80px;width:1px;height:10.10px;background:#2a2a2a"></div>
<div class="cbar" style="left:395.3px;top:234.10px;width:7.5px;height:4.39px"></div>
<div class="ln" style="left:398.55px;top:234.60px;width:1px;height:9.10px;background:#666"></div>
<div class="cbar" style="left:415.5px;top:224.44px;width:7.5px;height:9.66px"></div>
<div class="ln" style="left:418.75px;top:221.50px;width:1px;height:5.50px;background:#2a2a2a"></div>
<div class="cbar" style="left:436.0px;top:216.54px;width:7.5px;height:17.56px"></div>
<div class="ln" style="left:439.25px;top:214.00px;width:1px;height:5.30px;background:#2a2a2a"></div>
<div class="cbar" style="left:456.1px;top:221.81px;width:7.5px;height:12.29px"></div>
<div class="ln" style="left:459.35px;top:219.80px;width:1px;height:4.10px;background:#2a2a2a"></div>
<div class="cbar" style="left:476.3px;top:218.30px;width:7.5px;height:15.80px"></div>
<div class="ln" style="left:479.55px;top:215.10px;width:1px;height:6.40px;background:#2a2a2a"></div>
<div class="cbar" style="left:496.6px;top:208.20px;width:7.5px;height:25.90px"></div>
<div class="ln" style="left:499.85px;top:206.20px;width:1px;height:4.10px;background:#2a2a2a"></div>
<div class="rv" style="left:255.70px;top:329.20px;width:80px;font-size:4.1px;line-height:4.6px;text-align:right">copanlisib 0.03uM</div>
<div class="rv" style="left:276.00px;top:329.20px;width:80px;font-size:4.1px;line-height:4.6px;text-align:right">palbociclib 0.3uM</div>
<div class="rv" style="left:293.00px;top:329.20px;width:80px;font-size:4.1px;line-height:4.6px;text-align:right">copanlisib 0.03uM +<br>palbociclib 0.3uM</div>
<div class="rv" style="left:316.20px;top:329.20px;width:80px;font-size:4.1px;line-height:4.6px;text-align:right">copanlisib 0.3uM</div>
<div class="rv" style="left:335.90px;top:329.20px;width:80px;font-size:4.1px;line-height:4.6px;text-align:right">palbociclib 3uM</div>
<div class="rv" style="left:354.10px;top:329.20px;width:80px;font-size:4.1px;line-height:4.6px;text-align:right">copanlisib 0.3uM +<br>palbociclib 3uM</div>
<div class="rv" style="left:397.80px;top:329.20px;width:80px;font-size:4.1px;line-height:4.6px;text-align:right">copanlisib 0.03uM</div>
<div class="rv" style="left:417.40px;top:329.20px;width:80px;font-size:4.1px;line-height:4.6px;text-align:right">palbociclib 0.3uM</div>
<div class="rv" style="left:435.30px;top:329.20px;width:80px;font-size:4.1px;line-height:4.6px;text-align:right">copanlisib 0.03uM +<br>palbociclib 0.3uM</div>
<div class="rv" style="left:457.80px;top:329.20px;width:80px;font-size:4.1px;line-height:4.6px;text-align:right">copanlisib 0.3uM</div>
<div class="rv" style="left:478.60px;top:329.20px;width:80px;font-size:4.1px;line-height:4.6px;text-align:right">palbociclib 3uM</div>
<div class="rv" style="left:496.50px;top:329.20px;width:80px;font-size:4.1px;line-height:4.6px;text-align:right">copanlisib 0.3uM +<br>palbociclib 3uM</div>
<div class="t" style="left:298px;top:310.6px;width:40px;text-align:center;font-size:4.2px;line-height:4px;color:#333;transform:translateY(0.7px)">JEKO1</div>
<div class="t" style="left:430.3px;top:310.4px;width:40px;text-align:center;font-size:4.2px;line-height:4px;color:#333;transform:translateY(0.7px)">SSK41</div>
<div id="frame"></div></body></html>
